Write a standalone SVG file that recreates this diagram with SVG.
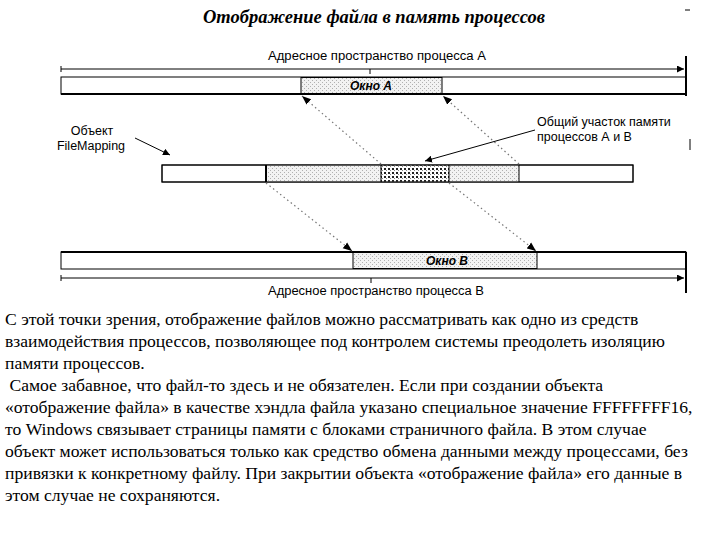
<svg xmlns="http://www.w3.org/2000/svg" width="720" height="540" viewBox="0 0 720 540">
<defs>
<pattern id="light" width="4" height="4" patternUnits="userSpaceOnUse">
<rect width="4" height="4" fill="#f2f2f2"/>
<rect x="0" y="0" width="1" height="1" fill="#b0b0b0"/>
<rect x="2" y="2" width="1" height="1" fill="#b0b0b0"/>
</pattern>
<pattern id="dark" width="4" height="4" patternUnits="userSpaceOnUse">
<rect width="4" height="4" fill="#ffffff"/>
<rect x="0" y="0" width="2" height="2" fill="#222"/>
<rect x="2" y="2" width="1" height="1" fill="#888"/>
</pattern>
<marker id="ah" viewBox="0 0 10 10" refX="10" refY="5" markerWidth="7" markerHeight="7" orient="auto" markerUnits="userSpaceOnUse">
<path d="M0,0 L10,5 L0,10 z" fill="#000"/>
</marker>
<marker id="ahs" viewBox="0 0 10 10" refX="10" refY="5" markerWidth="9" markerHeight="9" orient="auto" markerUnits="userSpaceOnUse">
<path d="M0,1 L10,5 L0,9 z" fill="#000"/>
</marker>
</defs>
<style>
.lbl{font-family:"Liberation Sans",Arial,sans-serif;font-size:12.5px;fill:#000}
.win{font-family:"Liberation Sans",Arial,sans-serif;font-size:12px;font-weight:bold;font-style:italic;fill:#000}
.body{font-family:"Liberation Serif","Times New Roman",serif;font-size:17.6px;fill:#000}
.title{font-family:"Liberation Serif","Times New Roman",serif;font-size:18px;font-weight:bold;font-style:italic;fill:#000}
.bar{fill:#fff;stroke:#000;stroke-width:1}
.dot{stroke:#777;stroke-width:1.2;stroke-dasharray:1.5 3;fill:none}
.ln{stroke:#000;fill:none}
</style>

<text class="title" x="374" y="23" text-anchor="middle" textLength="342" lengthAdjust="spacingAndGlyphs">Отображение файла в память процессов</text>
<line class="ln" x1="685" y1="10" x2="690" y2="10" stroke="#999"/>

<g id="axisA">
<text class="lbl" x="377" y="60" text-anchor="middle" textLength="218" lengthAdjust="spacingAndGlyphs">Адресное пространство процесса А</text>
<line class="ln" x1="61" y1="69" x2="684" y2="69" stroke-width="1" marker-end="url(#ah)"/>
<line class="ln" x1="61" y1="66" x2="61" y2="72"/>
<line class="ln" x1="370" y1="69" x2="370" y2="74"/>
</g>

<g id="barA">
<rect class="bar" x="61" y="77" width="625" height="17"/>
<rect x="301" y="77.5" width="141" height="16" fill="url(#light)" stroke="#000" stroke-width="1"/>
<line class="ln" x1="61" y1="94" x2="686" y2="94" stroke-width="2"/>
<line class="ln" x1="686" y1="56" x2="686" y2="96" stroke-width="2"/>
<text class="win" x="371" y="90" text-anchor="middle">Окно А</text>
</g>

<g id="filemapping">
<rect class="bar" x="162" y="165" width="471" height="17"/>
<rect x="266" y="165.5" width="115" height="16" fill="url(#light)"/>
<rect x="381" y="165.5" width="68" height="16" fill="url(#dark)"/>
<rect x="449" y="165.5" width="70" height="16" fill="url(#light)"/>
<line class="ln" x1="266" y1="165" x2="266" y2="182" stroke-width="2"/>
<line class="ln" x1="381" y1="165" x2="381" y2="182"/>
<line class="ln" x1="449" y1="165" x2="449" y2="182"/>
<line class="ln" x1="519" y1="165" x2="519" y2="182"/>
<rect x="162" y="165" width="471" height="17" fill="none" stroke="#000"/>
</g>

<g id="labelFM">
<text class="lbl" x="92" y="135" text-anchor="middle">Объект</text>
<text class="lbl" x="91" y="150" text-anchor="middle">FileMapping</text>
</g>

<g id="labelShared">
<text class="lbl" x="537" y="126">Общий участок памяти</text>
<text class="lbl" x="537" y="141">процессов А и В</text>
</g>
<line class="ln" x1="690" y1="139" x2="690" y2="150" stroke="#555"/>

<g id="barB">
<rect class="bar" x="61" y="252" width="625" height="17"/>
<rect x="353" y="252.5" width="184" height="16" fill="url(#light)" stroke="#000" stroke-width="1"/>
<line class="ln" x1="61" y1="252" x2="686" y2="252" stroke-width="2"/>
<line class="ln" x1="686" y1="252" x2="686" y2="293" stroke-width="2"/>
<text class="win" x="447" y="265" text-anchor="middle">Окно В</text>
</g>

<g id="axisB">
<line class="ln" x1="61" y1="278" x2="684" y2="278" stroke-width="1" marker-end="url(#ah)"/>
<line class="ln" x1="61" y1="275" x2="61" y2="281"/>
<line class="ln" x1="371" y1="278" x2="371" y2="283"/>
<text class="lbl" x="376" y="295" text-anchor="middle" textLength="216" lengthAdjust="spacingAndGlyphs">Адресное пространство процесса В</text>
</g>

<g id="connectors">
<line class="dot" x1="381" y1="164" x2="302" y2="96" marker-end="url(#ahs)"/>
<line class="dot" x1="519" y1="164" x2="443" y2="96" marker-end="url(#ahs)"/>
<line class="dot" x1="266" y1="183" x2="352" y2="251" marker-end="url(#ahs)"/>
<line class="dot" x1="449" y1="183" x2="536" y2="251" marker-end="url(#ahs)"/>
<line class="ln" x1="135" y1="138" x2="170" y2="155" marker-end="url(#ah)"/>
<line class="ln" x1="535" y1="130" x2="425" y2="161" marker-end="url(#ah)"/>
</g>

<g id="paragraph">
<text class="body" x="5" y="325">С этой точки зрения, отображение файлов можно рассматривать как одно из средств</text>
<text class="body" x="5" y="347">взаимодействия процессов, позволяющее под контролем системы преодолеть изоляцию</text>
<text class="body" x="5" y="369">памяти процессов.</text>
<text class="body" x="5" y="391" xml:space="preserve"> Самое забавное, что файл-то здесь и не обязателен. Если при создании объекта</text>
<text class="body" x="5" y="413">«отображение файла» в качестве хэндла файла указано специальное значение FFFFFFFF16,</text>
<text class="body" x="5" y="435">то Windows связывает страницы памяти с блоками страничного файла. В этом случае</text>
<text class="body" x="5" y="457">объект может использоваться только как средство обмена данными между процессами, без</text>
<text class="body" x="5" y="479">привязки к конкретному файлу. При закрытии объекта «отображение файла» его данные в</text>
<text class="body" x="5" y="501">этом случае не сохраняются.</text>
</g>
</svg>
